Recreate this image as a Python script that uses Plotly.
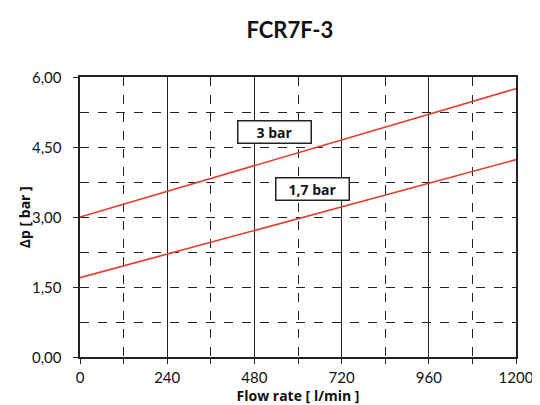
import plotly.graph_objects as go

flow = [0, 1200]
dp_3bar = [3.00, 5.75]
dp_17bar = [1.70, 4.23]

x_ticks = [0, 240, 480, 720, 960, 1200]
x_labels = ["0", "240", "480", "720", "960", "1200"]
y_ticks = [0, 1.5, 3.0, 4.5, 6.0]
y_labels = ["0,00", "1,50", "3,00", "4,50", "6,00"]

series_names = ["3 bar", "1,7 bar"]
label_pos = [(534, 4.82), (641, 3.60)]

RED = "#e63c28"
FONT = "Lato"

fig = go.Figure()
for ys in (dp_3bar, dp_17bar):
    fig.add_trace(go.Scatter(x=flow, y=ys, mode="lines",
                             line=dict(color=RED, width=1.6),
                             showlegend=False, hoverinfo="skip"))

for name, (lx, ly) in zip(series_names, label_pos):
    fig.add_annotation(x=lx, y=ly, text="<b>%s</b>" % name, showarrow=False,
                       font=dict(family="Open Sans", size=14, color="#111"),
                       bgcolor="white", bordercolor="#222", borderwidth=1.5,
                       borderpad=1, width=70, height=19)

# y tick labels, placed at their axis values
for v, t in zip(y_ticks, y_labels):
    fig.add_annotation(xref="paper", yref="y", x=0, y=v, xshift=-16,
                       xanchor="right", yanchor="middle", text=t, showarrow=False,
                       font=dict(family=FONT, size=15, color="#111"))

fig.add_annotation(xref="paper", yref="paper", x=-0.128, y=0.5,
                   text="<b>Δp [ bar ]</b>", textangle=-90, showarrow=False,
                   font=dict(family="Open Sans", size=14, color="#111"),
                   xanchor="center", yanchor="middle")

fig.update_layout(
    width=540, height=405,
    margin=dict(l=72, r=32, t=69, b=56, autoexpand=False),
    paper_bgcolor="white", plot_bgcolor="white",
    font=dict(family=FONT, size=15, color="#111"),
    title=dict(text="<b>FCR7F-3</b>", x=0.522, xanchor="center", y=0.946, yanchor="middle",
               font=dict(family="Lato", size=22, color="#111")),
)

fig.update_xaxes(
    range=[0, 1200], tickvals=x_ticks, ticktext=x_labels,
    showgrid=True, gridcolor="#222", gridwidth=1,
    showline=True, linecolor="#222", linewidth=2, mirror=True,
    ticks="outside", ticklen=5, tickcolor="#222", ticklabelstandoff=1,
    minor=dict(dtick=120, showgrid=True, gridcolor="#222", griddash="dash",
               gridwidth=1, ticks="outside", ticklen=5, tickcolor="#222"),
    zeroline=False,
    title=dict(text="<b>Flow rate [ l/min ]</b>", standoff=0,
               font=dict(family="Open Sans", size=14)),
    tickfont=dict(family=FONT, size=15),
)
fig.update_yaxes(
    range=[0, 6], tickvals=y_ticks, showticklabels=False,
    showgrid=True, gridcolor="#222", gridwidth=1, griddash="dash",
    showline=True, linecolor="#222", linewidth=2, mirror=True,
    ticks="outside", ticklen=5, tickcolor="#222",
    minor=dict(dtick=0.75, showgrid=True, gridcolor="#222", griddash="dash",
               gridwidth=1),
    zeroline=False,
)

fig.write_html("out.html")
